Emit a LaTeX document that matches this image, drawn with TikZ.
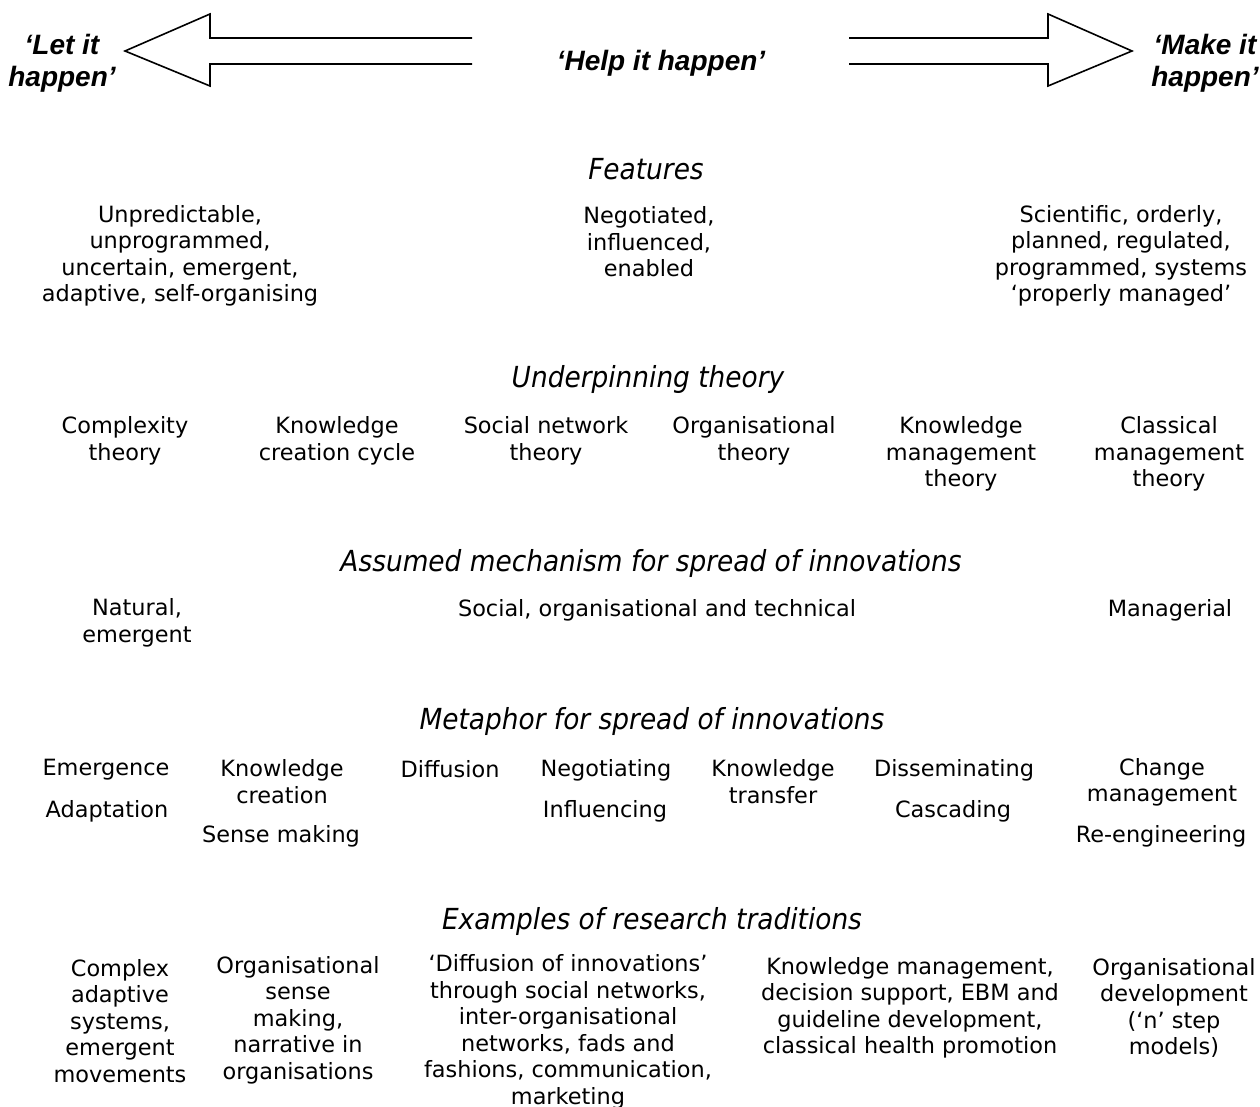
\documentclass[tikz,border=0pt]{standalone}
\usepackage{fontspec}
\setmainfont{DejaVu Sans}
\newfontfamily\headfont[FakeStretch=0.91]{DejaVu Sans}
\newfontfamily\polefont{Liberation Sans}

\begin{document}
\begin{tikzpicture}[x=0.5pt,y=-0.5pt,
    txt/.style={align=center,inner sep=0pt,font=\fontsize{11.2}{13.25}\selectfont},
    head/.style={inner sep=0pt,font=\headfont\itshape\fontsize{14.5}{17}\selectfont},
    pole/.style={align=center,inner sep=0pt,font=\polefont\bfseries\itshape\fontsize{14}{16}\selectfont},
    bigarrow/.style={line width=0.8pt,line join=miter}]
\useasboundingbox (0,0) rectangle (1260,1107);

% the two big arrows
\draw[bigarrow] (472,38) -- (210,38) -- (210,14) -- (125,51) -- (210,86) -- (210,64) -- (472,64);
\draw[bigarrow] (849,38) -- (1048,38) -- (1048,14) -- (1132,51) -- (1048,86) -- (1048,64) -- (849,64);

\node (let) at (62,63) [pole] {‘Let it\\happen’};
\node (help) at (661,63) [pole] {‘Help it happen’};
\node (make) at (1205,63) [pole] {‘Make it\\happen’};

% features
\node (feat) at (646,169) [head] {Features};
\node (f1) at (180,256) [txt] {Unpredictable,\\unprogrammed,\\uncertain, emergent,\\adaptive, self-organising};
\node (f2) at (649,242) [txt] {Negotiated,\\influenced,\\enabled};
\node (f3) at (1121,256) [txt] {Scientific, orderly,\\planned, regulated,\\programmed, systems\\‘properly managed’};

% underpinning theory
\node (theo) at (648,380) [head] {Underpinning theory};
\node (t1) at (125,441) [txt] {Complexity\\theory};
\node (t2) at (337,441) [txt] {Knowledge\\creation cycle};
\node (t3) at (546,441) [txt] {Social network\\theory};
\node (t4) at (754,441) [txt] {Organisational\\theory};
\node (t5) at (961,454) [txt] {Knowledge\\management\\theory};
\node (t6) at (1169,454) [txt] {Classical\\management\\theory};

% mechanism
\node (mech) at (651,564) [head] {Assumed mechanism for spread of innovations};
\node (m1) at (137,623) [txt] {Natural,\\emergent};
\node (m2) at (657,610) [txt] {Social, organisational and technical};
\node (m3) at (1170,610) [txt] {Managerial};

% metaphor
\node (meta) at (652,721) [head] {Metaphor for spread of innovations};
\node (e1) at (106,770) [txt] {Emergence};
\node (e2) at (107,811) [txt] {Adaptation};
\node (e3) at (282,781.5) [txt] {Knowledge\\creation};
\node (e4) at (281,836) [txt] {Sense making};
\node (e5) at (450,769) [txt] {Diffusion};
\node (e6) at (606,770) [txt] {Negotiating};
\node (e7) at (605,811) [txt] {Influencing};
\node (e8) at (773,781.5) [txt] {Knowledge\\transfer};
\node (e9) at (954,770) [txt] {Disseminating};
\node (e10) at (953,811) [txt] {Cascading};
\node (e11) at (1162,782.5) [txt] {Change\\management};
\node (e12) at (1161,836) [txt] {Re-engineering};

% research traditions
\node (exam) at (652,921) [head] {Examples of research traditions};
\node (r1) at (120,1021) [txt] {Complex\\adaptive\\systems,\\emergent\\movements};
\node (r2) at (298,1020) [txt] {Organisational\\sense\\making,\\narrative in\\organisations};
\node (r3) at (568,1032) [txt] {‘Diffusion of innovations’\\through social networks,\\inter-organisational\\networks, fads and\\fashions, communication,\\marketing};
\node (r4) at (910,1008) [txt] {Knowledge management,\\decision support, EBM and\\guideline development,\\classical health promotion};
\node (r5) at (1174,1008) [txt] {Organisational\\development\\(‘n’ step\\models)};
\end{tikzpicture}
\end{document}
